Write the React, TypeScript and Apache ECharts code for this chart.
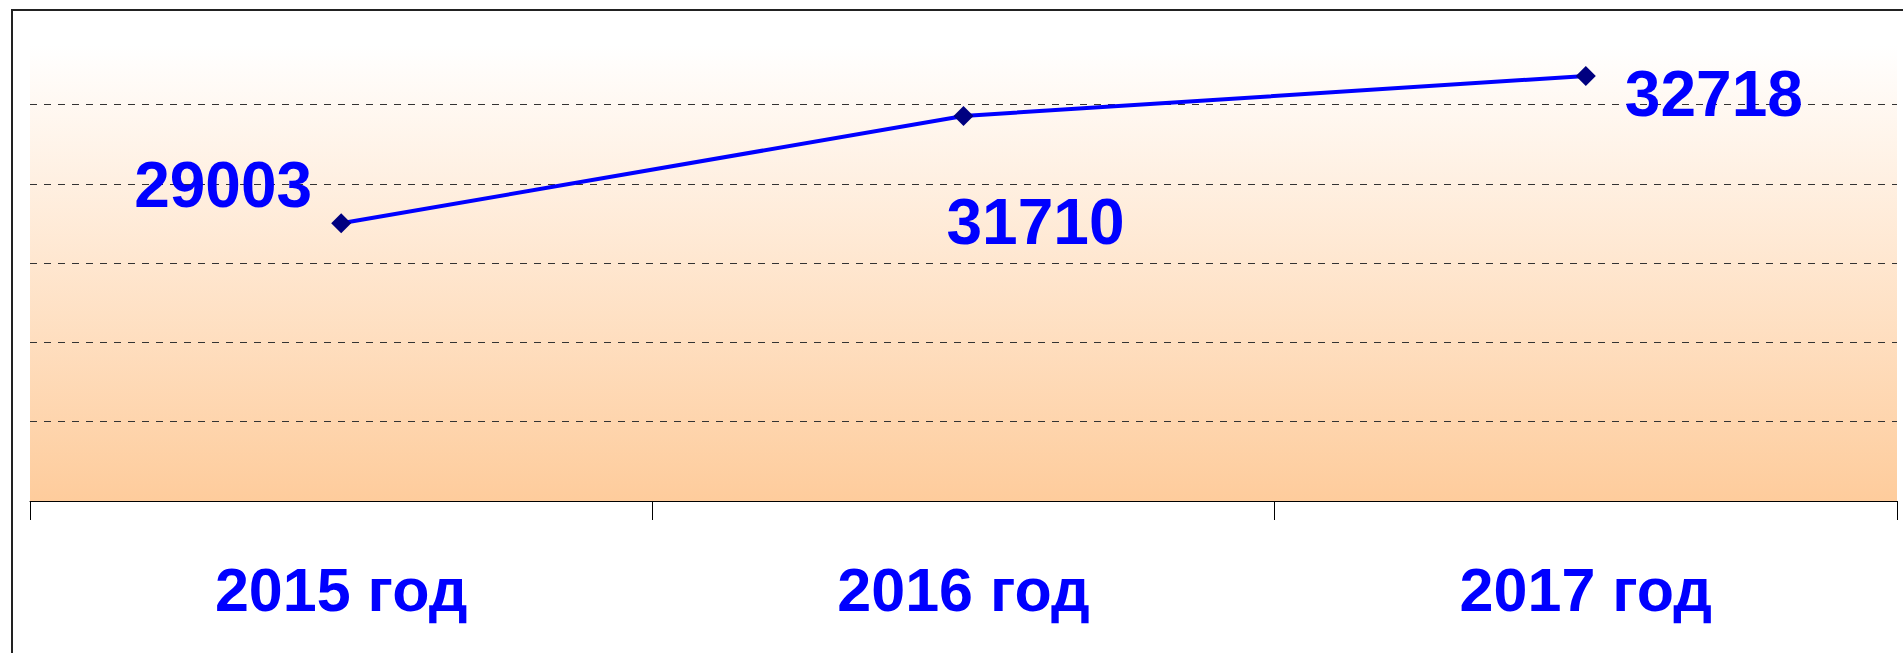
import React, { useEffect, useRef } from "react";
import * as echarts from "echarts";

const categories = ["2015 год", "2016 год", "2017 год"];
const values = [29003, 31710, 32718];
const yMin = 22000;
const yMax = 33500;
const yStep = 2000;

// label placement offsets (style only)
const labelOffsets: [number, number][] = [
  [-118, -38],
  [72, 106],
  [128, 18],
];

const FONT = '"Liberation Sans", Arial, sans-serif';

export default function App() {
  const ref = useRef<HTMLDivElement>(null);
  useEffect(() => {
    const chart = echarts.init(ref.current!, null, { renderer: "svg" });
    chart.setOption({
      animation: false,
      grid: {
        left: 30,
        right: 6,
        top: 45,
        bottom: 152,
        show: true,
        borderWidth: 0,
        backgroundColor: new echarts.graphic.LinearGradient(0, 0, 0, 1, [
          { offset: 0, color: "#FFFFFF" },
          { offset: 1, color: "#FECC9C" },
        ]),
      },
      xAxis: {
        type: "category",
        data: categories,
        boundaryGap: true,
        axisLine: { show: true, lineStyle: { color: "#000", width: 1 } },
        axisTick: { show: true, length: 19, lineStyle: { color: "#000", width: 1 } },
        axisLabel: {
          color: "#0000FF",
          fontSize: 61,
          fontWeight: "bold",
          fontFamily: FONT,
          margin: 58,
        },
        splitLine: { show: false },
      },
      yAxis: {
        type: "value",
        min: yMin,
        max: yMax,
        interval: yStep,
        axisLine: { show: false },
        axisTick: { show: false },
        axisLabel: { show: false },
        splitLine: {
          show: true,
          showMinLine: false,
          showMaxLine: false,
          lineStyle: { color: "#333", type: [7, 7], width: 1 },
        },
      },
      series: [
        {
          type: "line",
          data: values.map((v, i) => ({ value: v, label: { offset: labelOffsets[i] } })),
          symbol: "diamond",
          symbolSize: 20,
          itemStyle: { color: "#000080" },
          lineStyle: { color: "#0000FF", width: 4 },
          label: {
            show: true,
            position: "inside",
            color: "#0000FF",
            fontSize: 64,
            fontWeight: "bold",
            fontFamily: FONT,
          },
        },
      ],
      graphic: [
        {
          type: "polyline",
          silent: true,
          shape: { points: [[12, 653], [12, 10], [1903, 10]] },
          style: { stroke: "#222", lineWidth: 2, fill: null },
        },
      ],
    });
    return () => chart.dispose();
  }, []);
  return (
    <div
      ref={ref}
      style={{ position: "absolute", left: 0, top: 0, width: 1903, height: 653 }}
    />
  );
}
